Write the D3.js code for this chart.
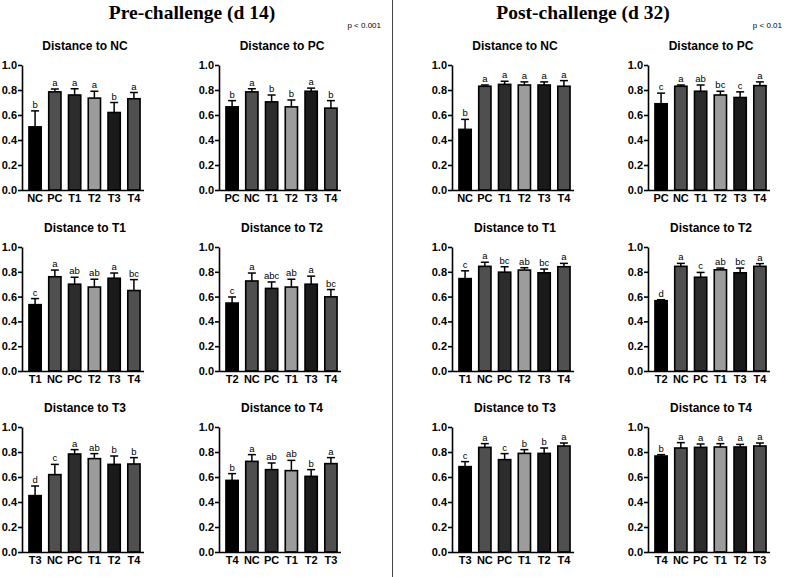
<!DOCTYPE html>
<html>
<head>
<meta charset="utf-8">
<script src="https://cdn.jsdelivr.net/npm/d3@7"></script>
<style>
  body { margin: 0; background: #fff; }
  svg { display: block; }
</style>
</head>
<body>
<div id="chart"></div>
<script>
var svgWidth = 790;
var svgHeight = 577;

// category order for each "distance to" reference group
var orderNC = ["NC", "PC", "T1", "T2", "T3", "T4"];
var orderPC = ["PC", "NC", "T1", "T2", "T3", "T4"];
var orderT1 = ["T1", "NC", "PC", "T2", "T3", "T4"];
var orderT2 = ["T2", "NC", "PC", "T1", "T3", "T4"];
var orderT3 = ["T3", "NC", "PC", "T1", "T2", "T4"];
var orderT4 = ["T4", "NC", "PC", "T1", "T2", "T3"];

var yTicks = [0.0, 0.2, 0.4, 0.6, 0.8, 1.0];

// Pre-challenge (d 14): means, upper error, letters
var preNC = [0.505, 0.785, 0.76, 0.735, 0.62, 0.73];
var preNCerr = [0.633, 0.808, 0.81, 0.79, 0.70, 0.78];
var preNCsig = ["b", "a", "a", "a", "b", "a"];

var prePC = [0.665, 0.785, 0.705, 0.665, 0.79, 0.655];
var prePCerr = [0.715, 0.81, 0.76, 0.72, 0.815, 0.715];
var prePCsig = ["b", "a", "b", "b", "a", "b"];

var preT1 = [0.535, 0.76, 0.70, 0.677, 0.748, 0.649];
var preT1err = [0.584, 0.814, 0.756, 0.74, 0.79, 0.737];
var preT1sig = ["c", "a", "ab", "ab", "a", "bc"];

var preT2 = [0.548, 0.726, 0.666, 0.677, 0.70, 0.598];
var preT2err = [0.597, 0.79, 0.718, 0.74, 0.765, 0.657];
var preT2sig = ["c", "a", "abc", "ab", "a", "bc"];

var preT3 = [0.451, 0.619, 0.784, 0.747, 0.701, 0.704];
var preT3err = [0.528, 0.701, 0.819, 0.787, 0.768, 0.755];
var preT3sig = ["d", "c", "a", "ab", "b", "b"];

var preT4 = [0.573, 0.725, 0.659, 0.651, 0.605, 0.707];
var preT4err = [0.627, 0.779, 0.712, 0.733, 0.659, 0.755];
var preT4sig = ["b", "a", "ab", "ab", "b", "a"];

// Post-challenge (d 32)
var postNC = [0.485, 0.83, 0.845, 0.84, 0.84, 0.83];
var postNCerr = [0.565, 0.84, 0.87, 0.865, 0.865, 0.875];
var postNCsig = ["b", "a", "a", "a", "a", "a"];

var postPC = [0.69, 0.83, 0.79, 0.76, 0.74, 0.835];
var postPCerr = [0.775, 0.84, 0.84, 0.79, 0.785, 0.865];
var postPCsig = ["c", "a", "ab", "bc", "c", "a"];

var postT1 = [0.745, 0.844, 0.797, 0.814, 0.792, 0.841];
var postT1err = [0.808, 0.877, 0.841, 0.833, 0.822, 0.868];
var postT1sig = ["c", "a", "bc", "ab", "bc", "a"];

var postT2 = [0.567, 0.844, 0.756, 0.816, 0.792, 0.844];
var postT2err = [0.575, 0.868, 0.795, 0.83, 0.83, 0.866];
var postT2sig = ["d", "a", "c", "ab", "bc", "a"];

var postT3 = [0.683, 0.837, 0.739, 0.789, 0.789, 0.848];
var postT3err = [0.723, 0.867, 0.787, 0.819, 0.832, 0.872];
var postT3sig = ["c", "a", "c", "b", "b", "a"];

var postT4 = [0.768, 0.832, 0.837, 0.84, 0.84, 0.848];
var postT4err = [0.779, 0.875, 0.864, 0.867, 0.861, 0.872];
var postT4sig = ["b", "a", "a", "a", "a", "a"];

// bar fills by position in each panel
var barFills = ["#000000", "#4f4f4f", "#2c2c2c", "#9c9c9c", "#1a1a1a", "#505050"];

var panels = [
    { title: "Distance to NC", cats: orderNC, vals: preNC, err: preNCerr, sig: preNCsig, col: 0, row: 0 },
    { title: "Distance to PC", cats: orderPC, vals: prePC, err: prePCerr, sig: prePCsig, col: 1, row: 0 },
    { title: "Distance to T1", cats: orderT1, vals: preT1, err: preT1err, sig: preT1sig, col: 0, row: 1 },
    { title: "Distance to T2", cats: orderT2, vals: preT2, err: preT2err, sig: preT2sig, col: 1, row: 1 },
    { title: "Distance to T3", cats: orderT3, vals: preT3, err: preT3err, sig: preT3sig, col: 0, row: 2 },
    { title: "Distance to T4", cats: orderT4, vals: preT4, err: preT4err, sig: preT4sig, col: 1, row: 2 },
    { title: "Distance to NC", cats: orderNC, vals: postNC, err: postNCerr, sig: postNCsig, col: 2, row: 0 },
    { title: "Distance to PC", cats: orderPC, vals: postPC, err: postPCerr, sig: postPCsig, col: 3, row: 0 },
    { title: "Distance to T1", cats: orderT1, vals: postT1, err: postT1err, sig: postT1sig, col: 2, row: 1 },
    { title: "Distance to T2", cats: orderT2, vals: postT2, err: postT2err, sig: postT2sig, col: 3, row: 1 },
    { title: "Distance to T3", cats: orderT3, vals: postT3, err: postT3err, sig: postT3sig, col: 2, row: 2 },
    { title: "Distance to T4", cats: orderT4, vals: postT4, err: postT4err, sig: postT4sig, col: 3, row: 2 }
];

// layout: y axis x-position per column, top/bottom of the value axis per row
var axisX = [22, 219, 452, 648];
var rowTop = [65, 247, 427];
var rowBottom = [190, 371, 552];
var plotWidth = 120;

var svg = d3.select("#chart")
    .append("svg")
    .attr("width", svgWidth)
    .attr("height", svgHeight);

// headers
svg.append("text")
    .attr("x", 192).attr("y", 19)
    .attr("text-anchor", "middle")
    .attr("font-family", "Liberation Serif, serif")
    .attr("font-weight", "bold")
    .attr("font-size", "19.5px")
    .text("Pre-challenge (d 14)");

svg.append("text")
    .attr("x", 583).attr("y", 19)
    .attr("text-anchor", "middle")
    .attr("font-family", "Liberation Serif, serif")
    .attr("font-weight", "bold")
    .attr("font-size", "19.5px")
    .text("Post-challenge (d 32)");

svg.append("text")
    .attr("x", 381).attr("y", 28)
    .attr("text-anchor", "end")
    .attr("font-family", "Liberation Sans, Arial, sans-serif")
    .attr("font-size", "8px")
    .text("p < 0.001");

svg.append("text")
    .attr("x", 782).attr("y", 28)
    .attr("text-anchor", "end")
    .attr("font-family", "Liberation Sans, Arial, sans-serif")
    .attr("font-size", "8px")
    .text("p < 0.01");

// divider
svg.append("line")
    .attr("x1", 392.5).attr("x2", 392.5)
    .attr("y1", 0).attr("y2", svgHeight)
    .attr("stroke", "#444")
    .attr("stroke-width", 1);

panels.forEach(function (p) {
    var x0 = axisX[p.col];
    var g = svg.append("g");

    var x = d3.scaleBand()
        .domain(p.cats)
        .range([x0 + 3, x0 + plotWidth + 2])
        .paddingInner(0.38)
        .paddingOuter(0.2);

    var y = d3.scaleLinear()
        .domain([0, 1])
        .range([rowBottom[p.row], rowTop[p.row]]);

    // title
    g.append("text")
        .attr("x", x0 + 63)
        .attr("y", rowTop[p.row] - 15)
        .attr("text-anchor", "middle")
        .attr("font-family", "Liberation Sans, Arial, sans-serif")
        .attr("font-weight", "bold")
        .attr("font-size", "12px")
        .text(p.title);

    var data = p.cats.map(function (c, i) {
        return { cat: c, v: p.vals[i], e: p.err[i], s: p.sig[i], i: i };
    });

    // error bars (upper only)
    var eb = g.selectAll(".eb").data(data).enter().append("g");
    eb.append("line")
        .attr("x1", d => x(d.cat) + x.bandwidth() / 2)
        .attr("x2", d => x(d.cat) + x.bandwidth() / 2)
        .attr("y1", d => y(d.v))
        .attr("y2", d => y(d.e))
        .attr("stroke", "#000")
        .attr("stroke-width", 1.5);
    eb.append("line")
        .attr("x1", d => x(d.cat) + x.bandwidth() / 2 - 4)
        .attr("x2", d => x(d.cat) + x.bandwidth() / 2 + 4)
        .attr("y1", d => y(d.e))
        .attr("y2", d => y(d.e))
        .attr("stroke", "#000")
        .attr("stroke-width", 1.5);

    // bars
    g.selectAll(".bar").data(data).enter().append("rect")
        .attr("x", d => x(d.cat))
        .attr("y", d => y(d.v))
        .attr("width", x.bandwidth())
        .attr("height", d => y(0) - y(d.v))
        .attr("fill", d => barFills[d.i])
        .attr("stroke", "#000")
        .attr("stroke-width", 1.6);

    // significance letters
    g.selectAll(".sig").data(data).enter().append("text")
        .attr("x", d => x(d.cat) + x.bandwidth() / 2)
        .attr("y", d => y(d.e) - 3)
        .attr("text-anchor", "middle")
        .attr("font-family", "Liberation Sans, Arial, sans-serif")
        .attr("font-size", "9.5px")
        .text(d => d.s);

    // axes
    var leftAxis = d3.axisLeft(y)
        .tickValues(yTicks)
        .tickFormat(d3.format(".1f"))
        .tickSize(4)
        .tickSizeOuter(0);
    var yg = g.append("g")
        .attr("transform", `translate(${x0}, 0)`)
        .call(leftAxis);

    var bottomAxis = d3.axisBottom(x).tickSize(0).tickSizeOuter(0);
    var xg = g.append("g")
        .attr("transform", `translate(0, ${rowBottom[p.row]})`)
        .call(bottomAxis);
    xg.select(".domain").attr("d", `M${x0},0.5H${x0 + plotWidth + 2}`);

    [yg, xg].forEach(function (a) {
        a.select(".domain").attr("stroke", "#000").attr("stroke-width", 1.6);
        a.selectAll(".tick line").attr("stroke", "#000").attr("stroke-width", 1.6);
        a.selectAll(".tick text")
            .attr("fill", "#000")
            .attr("font-family", "Liberation Sans, Arial, sans-serif")
            .attr("font-weight", "bold")
            .attr("font-size", "11px");
    });
    yg.selectAll(".tick text").attr("x", -5);
    xg.selectAll(".tick text").attr("dy", "0.75em").attr("y", 4);
});
</script>
</body>
</html>
